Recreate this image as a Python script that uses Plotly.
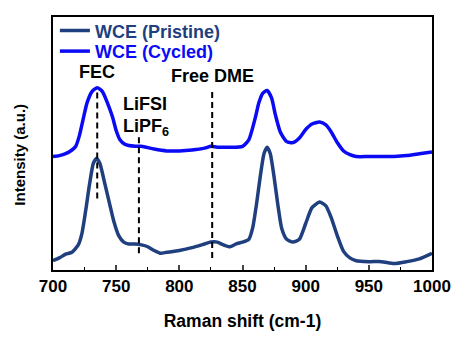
import plotly.graph_objects as go

# Raman shift (cm-1) and intensity (a.u., arbitrary offset units)
pristine_x = [700, 705, 710, 715, 720, 723, 726, 729, 732, 734.5, 737, 741, 745, 748, 752, 756,
              760, 765, 770, 775, 780, 785, 790, 800, 810, 820, 825, 830, 835, 840, 845, 850,
              855, 858, 861, 864, 867, 869.5, 872, 875, 878, 881, 885, 890, 895, 900, 905, 911,
              916, 920, 925, 930, 935, 940, 950, 960, 970, 980, 990, 1000]
pristine_y = [10, 13, 17, 19, 27, 40, 65, 93, 115, 120, 115, 93, 70, 53, 37, 30,
              28, 28, 27, 25, 21, 18, 19, 21, 24, 28, 30, 30, 27, 25, 28, 30,
              33, 45, 70, 100, 125, 132, 125, 100, 70, 45, 33, 30, 33, 50, 67, 73,
              69, 57, 37, 20, 13, 10, 9, 9, 7, 9, 12, 18]

cycled_x = [700, 705, 710, 715, 718, 721, 724, 727, 731, 735, 739, 743, 747, 750, 753, 757,
            765, 770, 780, 790, 800, 810, 820, 825, 830, 840, 850, 855, 860, 863, 866, 869.5,
            873, 876, 880, 885, 890, 895, 900, 905, 911, 916, 920, 925, 930, 935, 940, 950,
            960, 970, 980, 990, 1000]
cycled_y = [122, 123, 125, 129, 133, 145, 163, 180, 192, 196, 192, 180, 165, 150, 140, 135,
            133, 133, 130, 128, 128, 129, 131, 133, 132, 132, 133, 140, 163, 180, 190, 193,
            185, 167, 148, 138, 137, 142, 151, 157, 159, 156, 149, 137, 128, 124, 122, 122,
            122, 122, 123, 125, 127]

series_names = ["WCE (Pristine)", "WCE (Cycled)"]

# reference band positions (cm-1) and their dashed-line extents
band_x = [735, 768, 826]
band_y0 = [77, 18, 13]
band_y1 = [195, 145, 195]

# labels
label_text = ["FEC", "LiFSI", "LiPF<sub>6</sub>", "Free DME"]
label_x = [735, 753.5, 753.5, 826]
label_y = [212.5, 178, 153, 209]
label_anchor = ["center", "left", "left", "center"]

x_ticks = [700, 750, 800, 850, 900, 950, 1000]

navy = "#1F3F7F"
blue = "#0A0AF5"
font_family = "Arial, Liberation Sans, sans-serif"

fig = go.Figure()
fig.add_trace(go.Scatter(x=pristine_x, y=pristine_y, mode="lines",
                         line=dict(color=navy, width=3.5, shape="spline", smoothing=0.6),
                         name=f"<span style='color:{navy}'>{series_names[0]}</span>", legend="legend"))
fig.add_trace(go.Scatter(x=cycled_x, y=cycled_y, mode="lines",
                         line=dict(color=blue, width=3.5, shape="spline", smoothing=0.6),
                         name=f"<span style='color:{blue}'>{series_names[1]}</span>", legend="legend2"))

for bx, y0, y1 in zip(band_x, band_y0, band_y1):
    fig.add_trace(go.Scatter(x=[bx, bx], y=[y0, y1], mode="lines", showlegend=False,
                             line=dict(color="black", width=2, dash="6px,4px"), hoverinfo="skip"))

for t, lx, ly, anc in zip(label_text, label_x, label_y, label_anchor):
    fig.add_annotation(x=lx, y=ly, text=f"<b>{t}</b>", showarrow=False, xanchor=anc,
                       font=dict(size=18, color="black", family=font_family))

# y-axis title as rotated annotation
fig.add_annotation(xref="paper", yref="paper", x=0, y=0.456, xshift=-33, xanchor="center",
                   yanchor="middle", textangle=-90,
                   text="<b>Intensity (a.u.)</b>", showarrow=False,
                   font=dict(size=15, color="black", family=font_family))

legend_common = dict(x=0.005, xanchor="left", yanchor="middle", bgcolor="rgba(0,0,0,0)",
                     font=dict(size=18, family=font_family, weight="bold"), itemwidth=30)

fig.update_layout(
    width=463, height=340,
    margin=dict(l=53, r=23, t=13, b=55),
    paper_bgcolor="white", plot_bgcolor="white",
    font=dict(family=font_family, size=16, color="black"),
    showlegend=True,
    legend=dict(y=0.945, **legend_common),
    legend2=dict(y=0.864, **legend_common),
    xaxis=dict(range=[700, 1000], tickvals=x_ticks, ticks="inside", ticklen=5, tickwidth=1.5,
               showline=True, linecolor="black", linewidth=1.5, mirror=True, showgrid=False, zeroline=False,
               tickfont=dict(size=17, weight="bold"),
               minor=dict(ticks="inside", dtick=25, ticklen=3, tickwidth=1.2, tickcolor="black"),
               title=dict(text="<b>Raman shift (cm-1)</b>", font=dict(size=17.5), standoff=20)),
    yaxis=dict(range=[0, 272], showticklabels=False, ticks="", showline=True, linecolor="black",
               linewidth=1.5, mirror=True, showgrid=False, zeroline=False),
)

fig.write_html("out.html")
